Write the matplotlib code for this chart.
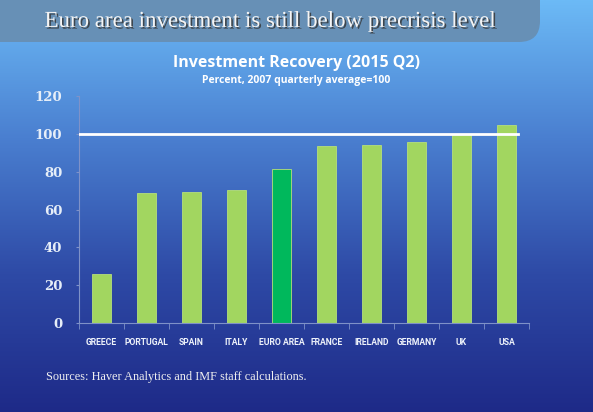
import numpy as np
import matplotlib.pyplot as plt
import matplotlib.patheffects as pe
from matplotlib.patches import FancyBboxPatch
from matplotlib.colors import LinearSegmentedColormap

countries = ['GREECE', 'PORTUGAL', 'SPAIN', 'ITALY', 'EURO AREA',
             'FRANCE', 'IRELAND', 'GERMANY', 'UK', 'USA']
values = [26, 68.5, 69.5, 70.5, 81.5, 93.5, 94, 95.5, 100, 104.5]
highlight = 'EURO AREA'
yticks = [0, 20, 40, 60, 80, 100, 120]

fig = plt.figure(figsize=(5.93, 4.12), dpi=100)

# background gradient, in pixel units
bg = fig.add_axes([0, 0, 1, 1], zorder=-10)
cmap = LinearSegmentedColormap.from_list('bg', ['#6cbaf6', '#4a7fd0', '#2e4aa6', '#1e2a88'])
grad = np.linspace(0, 1, 256).reshape(-1, 1)
bg.imshow(grad, aspect='auto', cmap=cmap, extent=[0, 593, 412, 0])
bg.set_xlim(0, 593)
bg.set_ylim(412, 0)
bg.axis('off')

# title banner
banner = FancyBboxPatch((-40, -40), 580, 82, boxstyle='round,pad=0,rounding_size=21',
                        facecolor='#6790b6', edgecolor='none')
bg.add_patch(banner)

fig.text(0.455, 0.948, 'Euro area investment is still below precrisis level',
         ha='center', va='center', fontsize=16.5, color='#f4f4f4', family='Liberation Serif',
         path_effects=[pe.withSimplePatchShadow(offset=(1.2, -1.2), shadow_rgbFace='#333333', alpha=0.8)])

fig.text(0.5, 0.848, 'Investment Recovery (2015 Q2)', ha='center', va='center',
         fontsize=11.5, fontweight='bold', color='white', family='Open Sans')
fig.text(0.5, 0.805, 'Percent, 2007 quarterly average=100', ha='center', va='center',
         fontsize=7.5, fontweight='bold', color='white', family='Open Sans')

ax = fig.add_axes([0.133, 0.216, 0.759, 0.551])
ax.patch.set_alpha(0)
colors = ['#00b85c' if c == highlight else '#a2d660' for c in countries]
x = np.arange(len(countries))
ax.bar(x, values, width=0.41, color=colors, edgecolor='#b6e07a', linewidth=0.6, zorder=2)
ax.axhline(100, xmin=0, xmax=0.975, color='white', linewidth=2, zorder=3)

ax.set_xlim(-0.5, len(countries) - 0.5)
ax.set_ylim(0, 120)
ax.set_yticks(yticks)
ax.set_yticklabels([str(v) for v in yticks], fontsize=9.5, fontweight='bold',
                   color='#e6eef8', family='DejaVu Serif')
ax.set_xticks(x)
ax.set_xticklabels(countries, fontsize=6.2, fontweight='bold', color='#eef2fa',
                   family='Roboto')
ax.set_xticks(np.arange(-0.5, len(countries)), minor=True)
ax.tick_params(axis='x', which='major', length=0, pad=11)
ax.tick_params(axis='x', which='minor', length=4, color='#7f92c8', direction='out')
ax.tick_params(axis='y', length=2, color='#7f92c8', pad=10)

for s in ['top', 'right']:
    ax.spines[s].set_visible(False)
ax.spines['left'].set_color('#7f92c8')
ax.spines['bottom'].set_color('#7f92c8')

fig.text(0.078, 0.085, 'Sources: Haver Analytics and IMF staff calculations.',
         ha='left', va='center', fontsize=8.8, color='#f0f0f0', family='Liberation Serif')

fig.savefig('out.png', dpi=100)
